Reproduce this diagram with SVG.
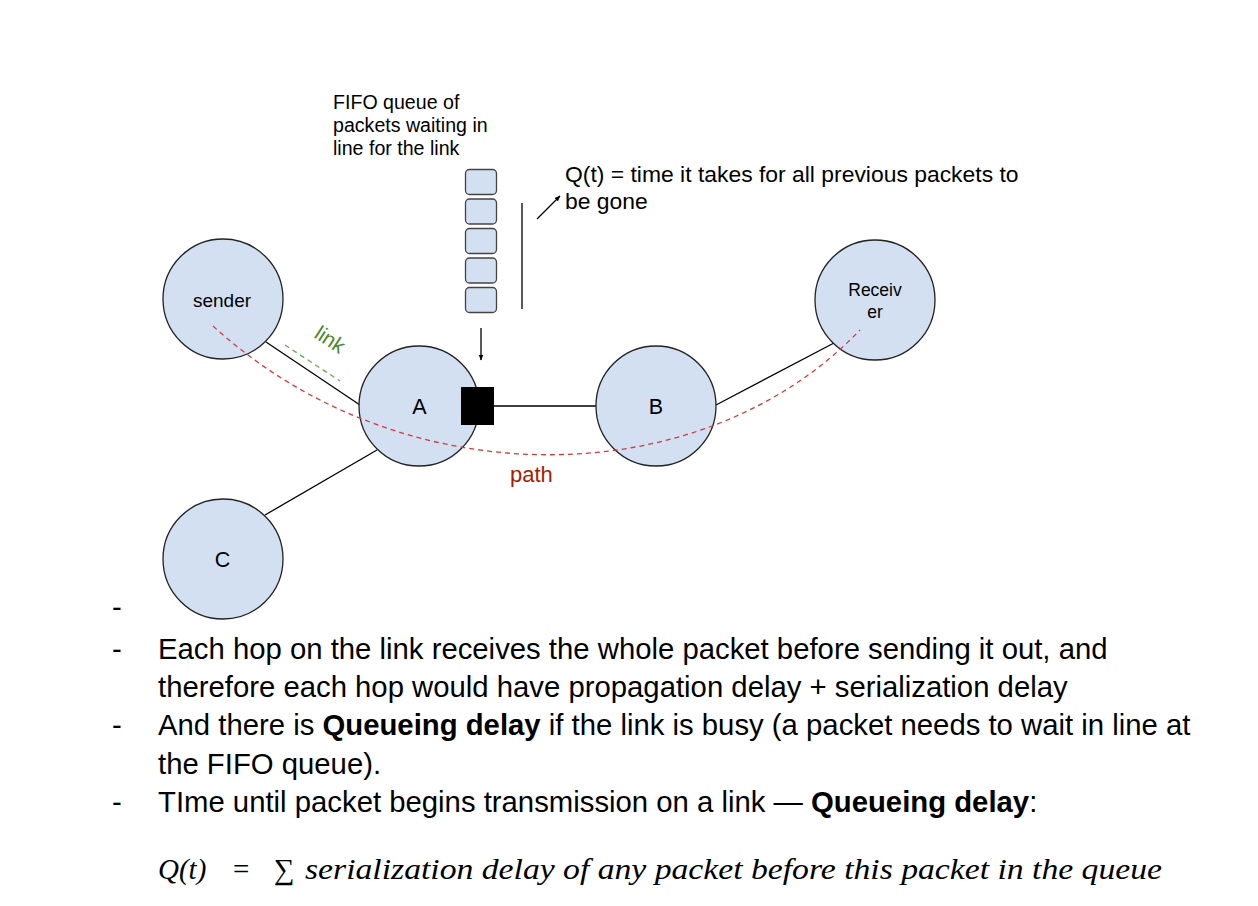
<svg xmlns="http://www.w3.org/2000/svg" width="1258" height="906" viewBox="0 0 1258 906">
<style>
.node{fill:#d3e0f1;stroke:#222;stroke-width:1.3}
.pkt{fill:#d3e0f1;stroke:#444;stroke-width:1.3}
.lbl{font-family:"Liberation Sans",Arial,sans-serif;fill:#000}
.conn{stroke:#000;stroke-width:1.3;fill:none}
.body{font-family:"Liberation Sans",Arial,sans-serif;font-size:29.3px;fill:#000}
.math{font-family:"Liberation Serif","DejaVu Serif",serif;font-style:italic;font-size:29px;fill:#000}
</style>
<defs>
<marker id="ah" viewBox="0 0 10 10" refX="9" refY="5" markerWidth="6" markerHeight="6" orient="auto" markerUnits="userSpaceOnUse">
<path d="M0,1 L10,5 L0,9 z" fill="#000"/>
</marker>
</defs>
<rect width="1258" height="906" fill="#fff"/>

<g id="connectors">
<line class="conn" x1="266" y1="342" x2="360" y2="405"/>
<line class="conn" x1="377" y1="450" x2="265" y2="515"/>
<line class="conn" x1="494" y1="406" x2="596" y2="406"/>
<line class="conn" x1="716" y1="405" x2="834" y2="343"/>
<line class="conn" x1="481" y1="328" x2="481" y2="360" marker-end="url(#ah)"/>
<line class="conn" x1="537" y1="219" x2="560" y2="196" marker-end="url(#ah)"/>
<line class="conn" x1="522" y1="203" x2="522" y2="309"/>
</g>

<g id="node-sender"><circle class="node" cx="223" cy="299" r="60"/><text class="lbl" x="222" y="306.5" font-size="19" text-anchor="middle">sender</text></g>
<g id="node-C"><circle class="node" cx="223" cy="559" r="60"/><text class="lbl" x="222.5" y="566.5" font-size="21.5" text-anchor="middle">C</text></g>
<g id="node-B"><circle class="node" cx="656" cy="406" r="60"/><text class="lbl" x="656" y="414" font-size="21.5" text-anchor="middle">B</text></g>
<g id="node-receiver"><circle class="node" cx="875" cy="300" r="60"/><text class="lbl" x="875" y="296" font-size="17.5" text-anchor="middle">Receiv</text><text class="lbl" x="875" y="318" font-size="17.5" text-anchor="middle">er</text></g>
<g id="node-A"><circle class="node" cx="419" cy="406" r="60"/><text class="lbl" x="419.5" y="414.3" font-size="21.5" text-anchor="middle">A</text></g>
<g id="link-port"><rect x="461" y="387" width="33" height="38" fill="#000"/></g>

<g id="queue">
<rect class="pkt" x="465.5" y="169.5" width="31" height="25" rx="4"/>
<rect class="pkt" x="465.5" y="199" width="31" height="25" rx="4"/>
<rect class="pkt" x="465.5" y="228.5" width="31" height="25" rx="4"/>
<rect class="pkt" x="465.5" y="258" width="31" height="25" rx="4"/>
<rect class="pkt" x="465.5" y="287.5" width="31" height="25" rx="4"/>
</g>

<g id="path-curve">
<path d="M213,326 C400,497 700,497 860,330" fill="none" stroke="#d03a3a" stroke-width="1.3" stroke-dasharray="5,4"/>
<text class="lbl" x="510" y="481.5" font-size="22" style="fill:#a61c00">path</text>
</g>

<g id="link-label">
<line x1="285" y1="345" x2="340" y2="381" stroke="#6aa84f" stroke-width="1.3" stroke-dasharray="5,4"/>
<text class="lbl" x="0" y="0" font-size="21" style="fill:#4a8a2a" transform="translate(313,337) rotate(33)">link</text>
</g>

<g id="fifo-label" class="lbl" font-size="19.6">
<text x="333" y="108.5">FIFO queue of</text>
<text x="333" y="132">packets waiting in</text>
<text x="333" y="155">line for the link</text>
</g>

<g id="qt-label" class="lbl" font-size="22.9">
<text x="565" y="182">Q(t) = time it takes for all previous packets to</text>
<text x="565" y="209">be gone</text>
</g>

<g id="bullets" class="body">
<text x="112" y="617">-</text>
<text x="112" y="658.5">-</text>
<text x="158" y="658.5">Each hop on the link receives the whole packet before sending it out, and</text>
<text x="158" y="697">therefore each hop would have propagation delay + serialization delay</text>
<text x="112" y="735">-</text>
<text x="158" y="735">And there is <tspan font-weight="bold">Queueing delay</tspan> if the link is busy (a packet needs to wait in line at</text>
<text x="158" y="773.5">the FIFO queue).</text>
<text x="112" y="812">-</text>
<text x="158" y="812">TIme until packet begins transmission on a link — <tspan font-weight="bold">Queueing delay</tspan>:</text>
</g>

<g id="formula" class="math">
<text x="158" y="879">Q(t)</text>
<text x="233" y="879" font-style="normal">=</text>
<text x="274" y="879" font-style="normal">∑</text>
<text x="305" y="879" textLength="857" lengthAdjust="spacingAndGlyphs">serialization delay of any packet before this packet in the queue</text>
</g>
</svg>
